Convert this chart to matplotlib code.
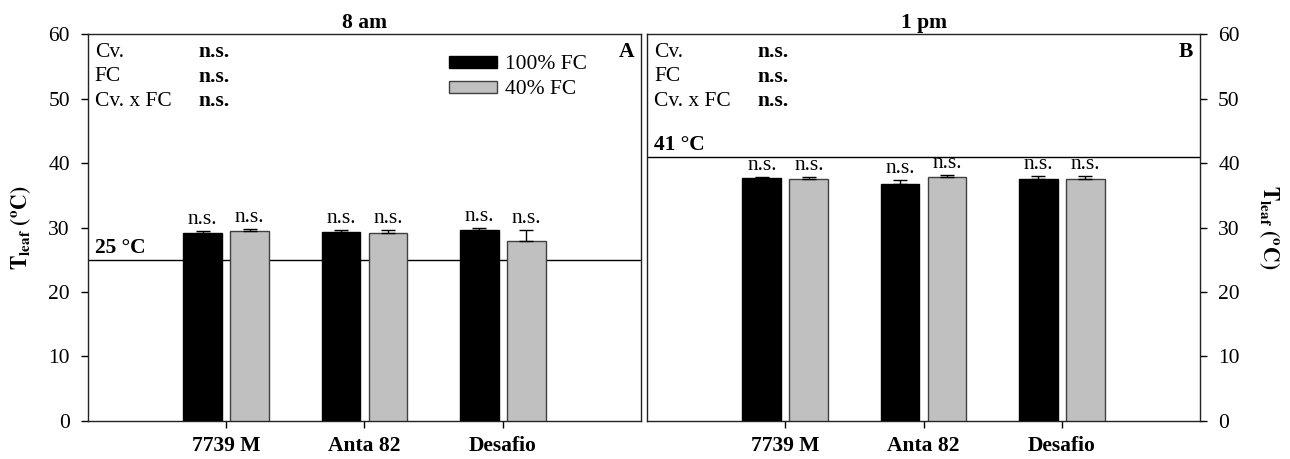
import numpy as np
import matplotlib
matplotlib.use("Agg")
import matplotlib.pyplot as plt
from matplotlib.patches import Patch

plt.rcParams['font.family'] = ['Liberation Serif', 'DejaVu Serif']
plt.rcParams['mathtext.fontset'] = 'stix'

# data
cultivars = ["7739 M", "Anta 82", "Desafio"]
am_100 = [29.2, 29.3, 29.6]
am_100_err = [0.3, 0.3, 0.3]
am_40 = [29.5, 29.1, 27.9]
am_40_err = [0.3, 0.5, 1.7]
pm_100 = [37.6, 36.7, 37.5]
pm_100_err = [0.3, 0.7, 0.5]
pm_40 = [37.5, 37.8, 37.5]
pm_40_err = [0.3, 0.4, 0.5]
stats_names = ["Cv.", "FC", "Cv. x FC"]
stats_am = ["n.s.", "n.s.", "n.s."]
stats_pm = ["n.s.", "n.s.", "n.s."]

fs = 15.5

fig = plt.figure(figsize=(12.9, 4.59), dpi=100)
ax1 = fig.add_axes([0.0682, 0.0828, 0.4287, 0.8431])
ax2 = fig.add_axes([0.5016, 0.0828, 0.4287, 0.8431])

x = np.arange(1, len(cultivars) + 1)
w = 0.28
off = 0.17


def draw(ax, v100, e100, v40, e40, stats, ref, ref_label, letter, title):
    ax.bar(x - off, v100, w, color='black', edgecolor='black', linewidth=1, zorder=3)
    ax.bar(x + off, v40, w, color='#c0c0c0', edgecolor='#404040', linewidth=1, zorder=3)
    ax.errorbar(x - off, v100, yerr=[np.zeros(len(x)), e100], fmt='none',
                ecolor='black', elinewidth=1, capsize=5, capthick=1, zorder=4)
    ax.errorbar(x + off, v40, yerr=[np.zeros(len(x)), e40], fmt='none',
                ecolor='black', elinewidth=1, capsize=5, capthick=1, zorder=4)
    for xi, v, e in zip(x - off, v100, e100):
        ax.text(xi, v + e + 0.3, "n.s.", ha='center', va='bottom', fontsize=fs)
    for xi, v, e in zip(x + off, v40, e40):
        ax.text(xi, v + e + 0.3, "n.s.", ha='center', va='bottom', fontsize=fs)
    ax.axhline(ref, color='black', linewidth=1, zorder=2)
    ax.text(0.05, ref + 0.3, ref_label, fontsize=fs, fontweight='bold', va='bottom')
    for i, (name, s) in enumerate(zip(stats_names, stats)):
        yy = 57.2 - i * 3.8
        ax.text(0.05, yy, name, fontsize=fs, va='center')
        ax.text(0.80, yy, s, fontsize=fs, fontweight='bold', va='center')
    ax.text(3.95, 57.2, letter, fontsize=fs, fontweight='bold', va='center', ha='right')
    ax.set_xlim(0, 4)
    ax.set_ylim(0, 60)
    ax.set_yticks(range(0, 61, 10))
    ax.set_xticks(x)
    ax.set_xticklabels(cultivars, fontsize=fs, fontweight='bold')
    ax.tick_params(axis='y', direction='out', length=5, width=1, labelsize=fs, pad=8)
    ax.tick_params(axis='x', direction='out', length=5, width=1, labelsize=fs, pad=6)
    ax.set_title(title, fontsize=fs, fontweight='bold', pad=4)
    for sp in ax.spines.values():
        sp.set_linewidth(1)
        sp.set_color('#222222')


draw(ax1, am_100, am_100_err, am_40, am_40_err, stats_am, 25, "25 °C", "A", "8 am")
draw(ax2, pm_100, pm_100_err, pm_40, pm_40_err, stats_pm, 41, "41 °C", "B", "1 pm")

ax1.set_ylabel(r'$\mathbf{T_{leaf}}$ $\mathbf{(^{o}C)}$', fontsize=fs, labelpad=11)
ax2.yaxis.tick_right()
ax2.yaxis.set_label_position('right')
ax2.set_ylabel(r'$\mathbf{T_{leaf}\ (^{o}C)}$', fontsize=fs, rotation=270, labelpad=30)

handles = [Patch(facecolor='black', edgecolor='black', label='100% FC'),
           Patch(facecolor='#c0c0c0', edgecolor='#404040', label='40% FC')]
ax1.legend(handles=handles, loc='upper left', bbox_to_anchor=(0.653, 0.945),
           frameon=False, fontsize=fs, handlelength=2.23, handleheight=0.47,
           handletextpad=0.37, labelspacing=0.28, borderpad=0, borderaxespad=0)

fig.savefig("out.png", dpi=100)
